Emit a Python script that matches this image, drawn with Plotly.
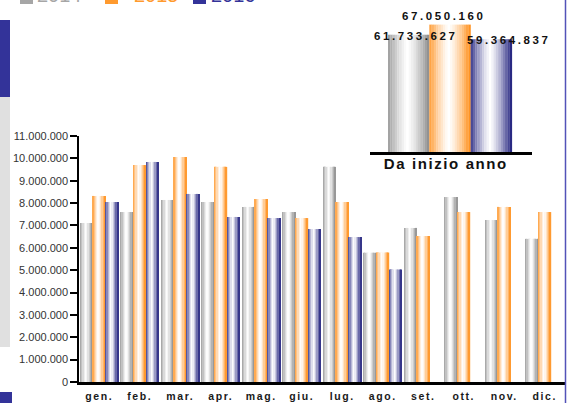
import plotly.graph_objects as go

months = ["gen.", "feb.", "mar.", "apr.", "mag.", "giu.", "lug.", "ago.", "set.", "ott.", "nov.", "dic."]
years = ["2014", "2015", "2016"]
v2014 = [7110000, 7600000, 8140000, 8050000, 7830000, 7600000, 9620000, 5780000, 6890000, 8270000, 7240000, 6400000]
v2015 = [8320000, 9700000, 10060000, 9620000, 8180000, 7330000, 8050000, 5790000, 6530000, 7600000, 7830000, 7600000]
v2016 = [8050000, 9840000, 8410000, 7380000, 7330000, 6840000, 6480000, 5030000, None, None, None, None]
ytd_label = ["Da inizio anno"]
ytd_values = [61733627, 67050160, 59364837]

edge_colors = [(138, 138, 138), (255, 140, 20), (26, 26, 122)]
legend_colors = ["#a6a6a6", "#ff9a2e", "#333399"]

W, H = 569, 403
ML, MR, MT, MB = 79, 4, 10, 21
PW, PH = W - ML - MR, H - MT - MB


def px_x(p):
    return (p - ML) / PW


def px_y(p):
    return (H - MB - p) / PH


def shade(rgb, t):
    d = min(1.0, abs(t - 0.47) / 0.53)
    mix = 1 - d ** 1.3
    r, g, b = [int(round(c * (1 - mix) + 255 * mix)) for c in rgb]
    return f"rgb({r},{g},{b})"


fig = go.Figure()


def add_strips(x, y, rgb, left, slot, xa, ya, n):
    step = slot / n
    for i in range(n):
        t = (i + 0.5) / n
        fig.add_trace(go.Bar(
            x=x, y=y, offset=left + i * step, width=step * 1.08,
            marker=dict(color=shade(rgb, t), line=dict(width=0)),
            xaxis=xa, yaxis=ya, showlegend=False, hoverinfo="skip"))


series = [v2014, v2015, v2016]
slot_main = 0.94 / 3
for k, vals in enumerate(series):
    add_strips(months, vals, edge_colors[k], -0.47 + k * slot_main, slot_main, "x", "y", 10)

slot_ytd = 0.255
for k in range(3):
    add_strips(ytd_label, [ytd_values[k]], edge_colors[k], -0.389 + k * slot_ytd, slot_ytd, "x2", "y2", 18)

annotations = []
shifts = [(-35, -9), (-7, 1), (58, -9)]
for k in range(3):
    txt = f"{ytd_values[k]:,}".replace(",", ".")
    annotations.append(dict(
        x=ytd_label[0], y=ytd_values[k], xref="x2", yref="y2", text=txt,
        showarrow=False, xanchor="center", yanchor="bottom",
        xshift=shifts[k][0], yshift=shifts[k][1],
        font=dict(family="Arial, Liberation Sans", size=11.5, color="#111111", weight="bold")))

# category label of the year-to-date inset
annotations.append(dict(
    x=ytd_label[0], y=0, xref="x2", yref="y2", text=ytd_label[0],
    showarrow=False, xanchor="center", yanchor="top", xshift=-5, yshift=-1,
    font=dict(family="Arial, Liberation Sans", size=15, color="#111111", weight="bold")))

legend_sq = [20, 105, 193]
legend_tx = [35, 132, 209]
shapes = []
for k in range(3):
    shapes.append(dict(type="rect", xref="paper", yref="paper",
                       x0=px_x(legend_sq[k]), x1=px_x(legend_sq[k] + 13),
                       y0=px_y(4), y1=px_y(-9), fillcolor=legend_colors[k], line=dict(width=0)))
    annotations.append(dict(x=px_x(legend_tx[k]), y=px_y(-5), xref="paper", yref="paper",
                            text=years[k], showarrow=False, xanchor="left", yanchor="middle",
                            font=dict(family="Arial, Liberation Sans", size=20, color=legend_colors[k])))

# side decorations
shapes += [
    dict(type="rect", xref="paper", yref="paper", x0=px_x(0), x1=px_x(10), y0=px_y(97), y1=px_y(20),
         fillcolor="#333399", line=dict(width=0), layer="below"),
    dict(type="rect", xref="paper", yref="paper", x0=px_x(0), x1=px_x(10), y0=px_y(347), y1=px_y(97),
         fillcolor="#e0e0e0", line=dict(width=0), layer="below"),
    dict(type="rect", xref="paper", yref="paper", x0=px_x(0), x1=px_x(12), y0=px_y(405), y1=px_y(392),
         fillcolor="#333399", line=dict(width=0), layer="below"),
    dict(type="line", xref="paper", yref="paper", x0=px_x(565.5), x1=px_x(565.5), y0=px_y(405), y1=px_y(-2),
         line=dict(color="#5252b8", width=1.5)),
]

fig.update_layout(
    width=W, height=H,
    margin=dict(l=ML, r=MR, t=MT, b=MB, autoexpand=False),
    paper_bgcolor="white", plot_bgcolor="rgba(0,0,0,0)",
    barmode="overlay", showlegend=False,
    separators=",.",
    font=dict(family="Arial, Liberation Sans", color="#222222"),
    xaxis=dict(type="category", domain=[0, 1], anchor="y", range=[-0.5, len(months) - 0.5],
               showgrid=False, showline=True,
               linecolor="#000000", linewidth=3, ticks="", ticklabelstandoff=2,
               tickfont=dict(family="Arial, Liberation Sans", size=10.5, color="#1a1a1a", weight="bold")),
    yaxis=dict(domain=[0, px_y(136)], range=[0, 11000000], dtick=1000000, tickformat=",d",
               showgrid=False, showline=True, linecolor="#000000", linewidth=1.5,
               ticks="outside", ticklen=7, tickwidth=1.5, tickcolor="#000000", zeroline=False,
               tickfont=dict(family="Arial, Liberation Sans", size=11, color="#333333")),
    xaxis2=dict(type="category", domain=[px_x(370), px_x(532)], anchor="y2", range=[-0.5, 0.5],
                showgrid=False, showticklabels=False,
                showline=True, linecolor="#000000", linewidth=3, ticks=""),
    yaxis2=dict(domain=[px_y(152), px_y(19)], range=[0, 70000000], anchor="x2",
                visible=False),
    annotations=annotations,
    shapes=shapes,
)

post = """
document.body.style.margin = '0';
document.body.style.overflow = 'hidden';
var gd = document.getElementById('{plot_id}');
gd.querySelectorAll('.xtick text').forEach(function(t){ t.style.letterSpacing = '1.6px'; });
gd.querySelectorAll('.annotation-text').forEach(function(t){
  var s = t.textContent;
  if (s.indexOf('.') >= 0) { t.style.letterSpacing = '2.6px'; }
  else if (s.indexOf(' ') >= 0) { t.style.letterSpacing = '1.6px'; }
});
"""

fig.write_html("out.html", post_script=post, config={"displayModeBar": False})
